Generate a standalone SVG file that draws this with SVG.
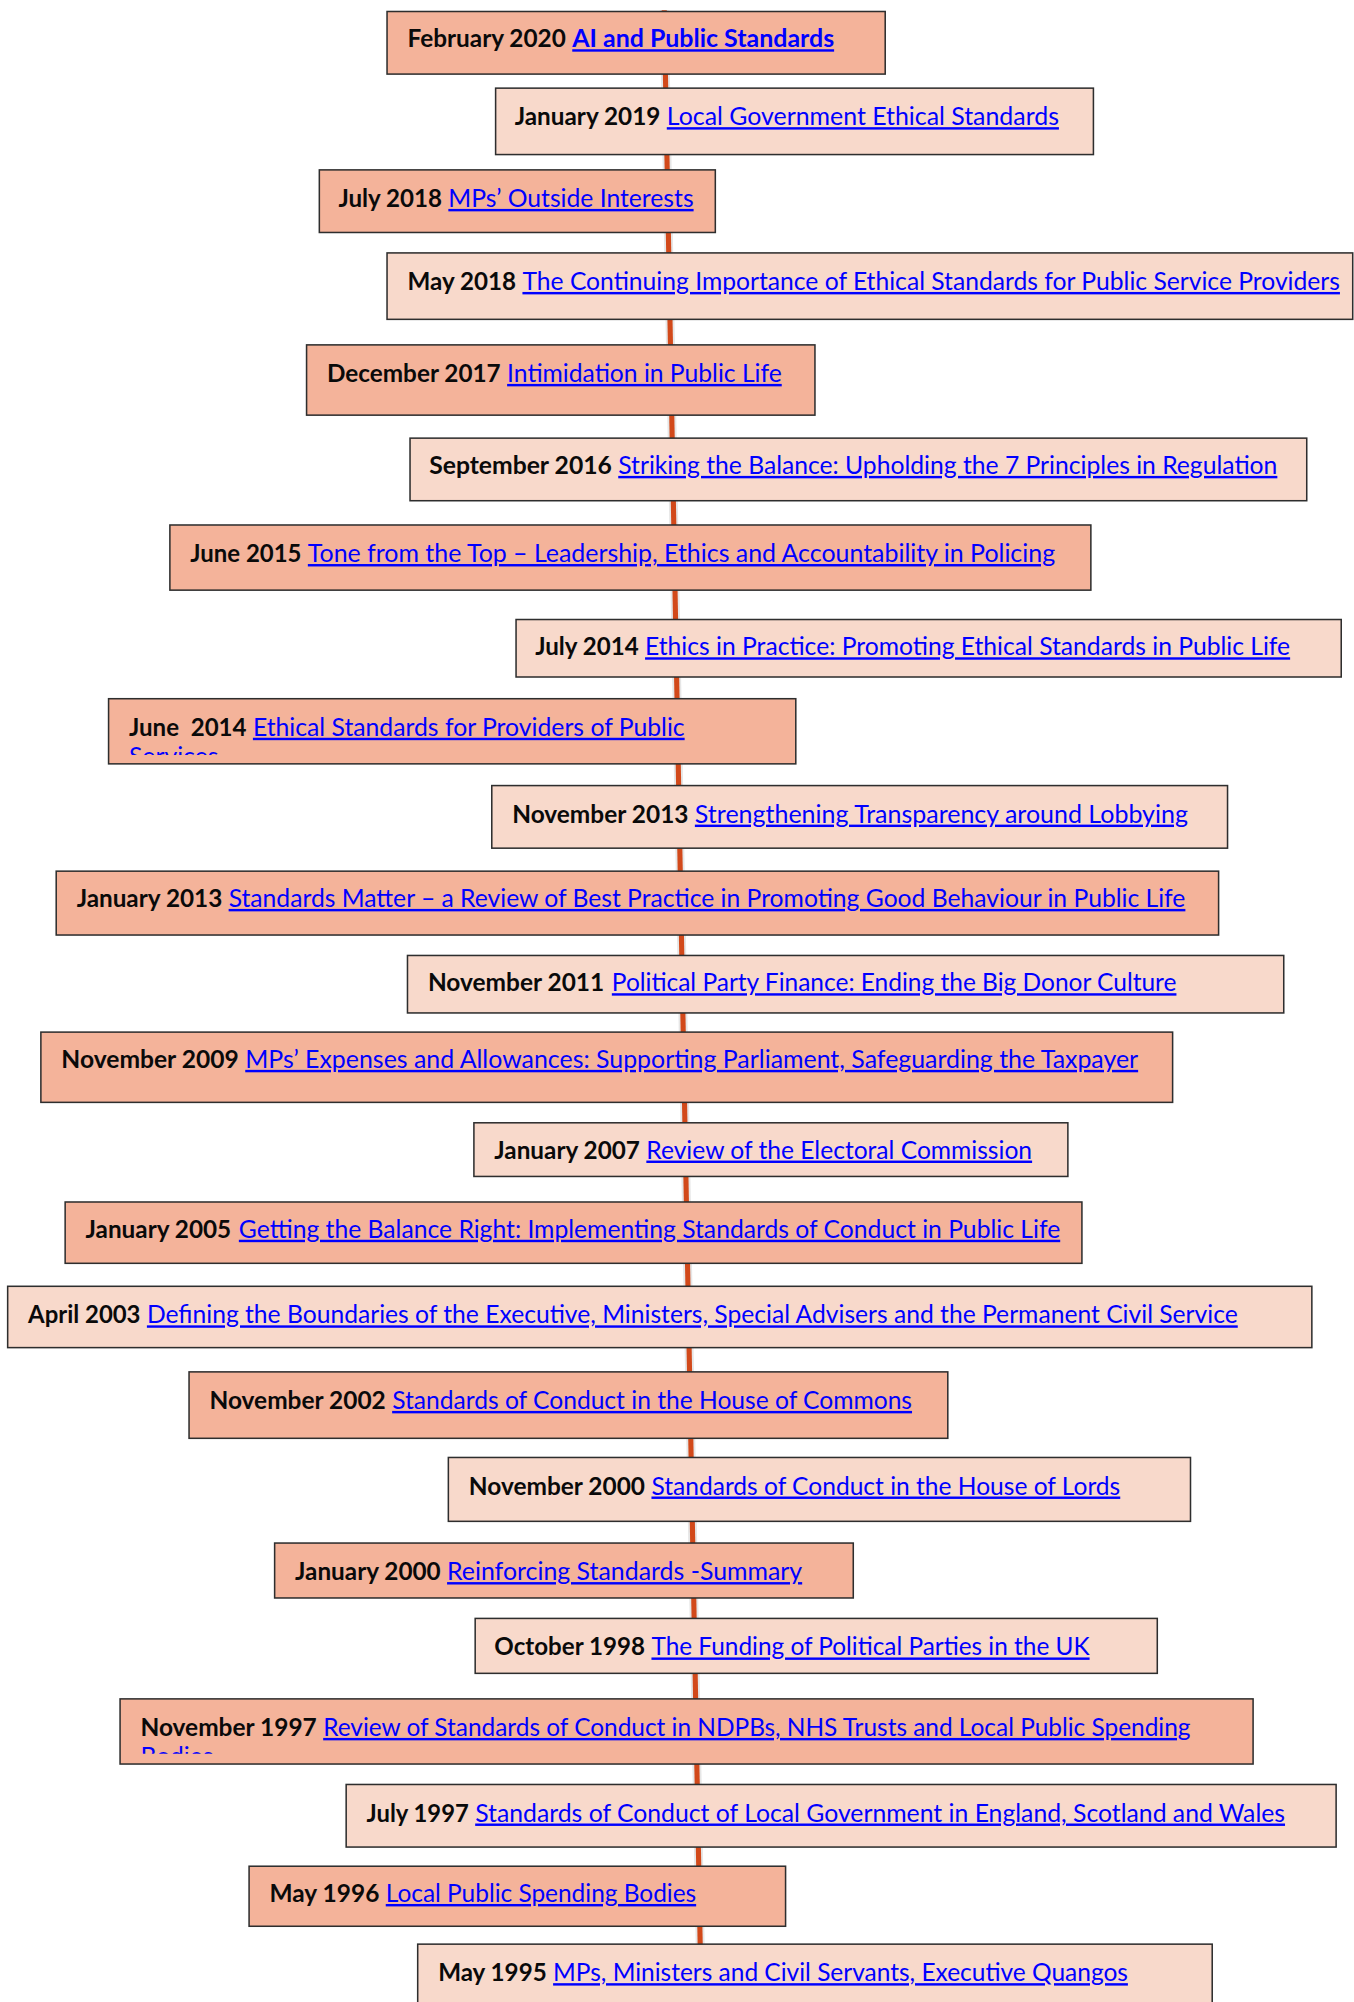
<svg xmlns="http://www.w3.org/2000/svg" width="1354" height="2002" viewBox="0 0 1354 2002">
<style>
.bx{stroke:#2e2e2e;stroke-width:1.2}
.dk{fill:#F4B39A}
.lt{fill:#F8D9CB}
text{font-family:Lato,"Open Sans","Liberation Sans",sans-serif;font-size:19px;white-space:pre}
.d{font-weight:bold;fill:#0a0a0a}
.l{fill:#0000FF;text-decoration:underline;text-decoration-skip-ink:none}
.lb{fill:#0000FF;text-decoration:underline;text-decoration-skip-ink:none;font-weight:bold}
</style>
<defs>
<clipPath id="c9"><rect x="86" y="548" width="536" height="43"/></clipPath>
<clipPath id="c21"><rect x="95" y="1331" width="885" height="42"/></clipPath>
</defs>
<rect width="1354" height="2002" fill="#ffffff"/>
<g transform="scale(1.27736)">
<g id="connectors">
<line x1="520" y1="8" x2="549" y2="1568" stroke="#e6e6e6" stroke-width="7"/>
<line x1="520" y1="8" x2="549" y2="1568" stroke="#D2491A" stroke-width="4"/>
</g>
<g id="n2020"><rect class="bx dk" x="303" y="9" width="390" height="49"/>
<text class="d" x="319" y="37" textLength="124" lengthAdjust="spacingAndGlyphs">February 2020</text>
<text class="lb" x="448" y="37" textLength="205" lengthAdjust="spacingAndGlyphs">AI and Public Standards</text></g>
<g id="n2019"><rect class="bx lt" x="388" y="69" width="468" height="52"/>
<text class="d" x="403" y="98" textLength="114" lengthAdjust="spacingAndGlyphs">January 2019</text>
<text class="l" x="522" y="98" textLength="307" lengthAdjust="spacingAndGlyphs">Local Government Ethical Standards</text></g>
<g id="n2018jul"><rect class="bx dk" x="250" y="133" width="310" height="49"/>
<text class="d" x="265" y="162" textLength="81" lengthAdjust="spacingAndGlyphs">July 2018</text>
<text class="l" x="351" y="162" textLength="192" lengthAdjust="spacingAndGlyphs">MPs’ Outside Interests</text></g>
<g id="n2018may"><rect class="bx lt" x="303" y="198" width="756" height="52"/>
<text class="d" x="319" y="227" textLength="85" lengthAdjust="spacingAndGlyphs">May 2018</text>
<text class="l" x="409" y="227" textLength="640" lengthAdjust="spacingAndGlyphs">The Continuing Importance of Ethical Standards for Public Service Providers</text></g>
<g id="n2017"><rect class="bx dk" x="240" y="270" width="398" height="55"/>
<text class="d" x="256" y="299" textLength="136" lengthAdjust="spacingAndGlyphs">December 2017</text>
<text class="l" x="397" y="299" textLength="215" lengthAdjust="spacingAndGlyphs">Intimidation in Public Life</text></g>
<g id="n2016"><rect class="bx lt" x="321" y="343" width="702" height="49"/>
<text class="d" x="336" y="371" textLength="143" lengthAdjust="spacingAndGlyphs">September 2016</text>
<text class="l" x="484" y="371" textLength="516" lengthAdjust="spacingAndGlyphs">Striking the Balance: Upholding the 7 Principles in Regulation</text></g>
<g id="n2015"><rect class="bx dk" x="133" y="411" width="721" height="51"/>
<text class="d" x="149" y="440" textLength="87" lengthAdjust="spacingAndGlyphs">June 2015</text>
<text class="l" x="241" y="440" textLength="585" lengthAdjust="spacingAndGlyphs">Tone from the Top – Leadership, Ethics and Accountability in Policing</text></g>
<g id="n2014jul"><rect class="bx lt" x="404" y="485" width="646" height="45"/>
<text class="d" x="419" y="513" textLength="81" lengthAdjust="spacingAndGlyphs">July 2014</text>
<text class="l" x="505" y="513" textLength="505" lengthAdjust="spacingAndGlyphs">Ethics in Practice: Promoting Ethical Standards in Public Life</text></g>
<g id="n2014jun"><rect class="bx dk" x="85" y="547" width="538" height="51"/>
<g clip-path="url(#c9)">
<text class="d" x="101" y="576" textLength="92" lengthAdjust="spacingAndGlyphs">June  2014</text>
<text class="l" x="198" y="576" textLength="338" lengthAdjust="spacingAndGlyphs">Ethical Standards for Providers of Public</text>
<text class="l" x="101" y="599" textLength="70" lengthAdjust="spacingAndGlyphs">Services</text></g></g>
<g id="n2013nov"><rect class="bx lt" x="385" y="615" width="576" height="49"/>
<text class="d" x="401" y="644" textLength="138" lengthAdjust="spacingAndGlyphs">November 2013</text>
<text class="l" x="544" y="644" textLength="386" lengthAdjust="spacingAndGlyphs">Strengthening Transparency around Lobbying</text></g>
<g id="n2013jan"><rect class="bx dk" x="44" y="682" width="910" height="50"/>
<text class="d" x="60" y="710" textLength="114" lengthAdjust="spacingAndGlyphs">January 2013</text>
<text class="l" x="179" y="710" textLength="749" lengthAdjust="spacingAndGlyphs">Standards Matter – a Review of Best Practice in Promoting Good Behaviour in Public Life</text></g>
<g id="n2011"><rect class="bx lt" x="319" y="748" width="686" height="45"/>
<text class="d" x="335" y="776" textLength="138" lengthAdjust="spacingAndGlyphs">November 2011</text>
<text class="l" x="479" y="776" textLength="442" lengthAdjust="spacingAndGlyphs">Political Party Finance: Ending the Big Donor Culture</text></g>
<g id="n2009"><rect class="bx dk" x="32" y="808" width="886" height="55"/>
<text class="d" x="48" y="836" textLength="139" lengthAdjust="spacingAndGlyphs">November 2009</text>
<text class="l" x="192" y="836" textLength="699" lengthAdjust="spacingAndGlyphs">MPs’ Expenses and Allowances: Supporting Parliament, Safeguarding the Taxpayer</text></g>
<g id="n2007"><rect class="bx lt" x="371" y="879" width="465" height="42"/>
<text class="d" x="387" y="907" textLength="114" lengthAdjust="spacingAndGlyphs">January 2007</text>
<text class="l" x="506" y="907" textLength="302" lengthAdjust="spacingAndGlyphs">Review of the Electoral Commission</text></g>
<g id="n2005"><rect class="bx dk" x="51" y="941" width="796" height="48"/>
<text class="d" x="67" y="969" textLength="114" lengthAdjust="spacingAndGlyphs">January 2005</text>
<text class="l" x="187" y="969" textLength="643" lengthAdjust="spacingAndGlyphs">Getting the Balance Right: Implementing Standards of Conduct in Public Life</text></g>
<g id="n2003"><rect class="bx lt" x="6" y="1007" width="1021" height="48"/>
<text class="d" x="22" y="1036" textLength="88" lengthAdjust="spacingAndGlyphs">April 2003</text>
<text class="l" x="115" y="1036" textLength="854" lengthAdjust="spacingAndGlyphs">Defining the Boundaries of the Executive, Ministers, Special Advisers and the Permanent Civil Service</text></g>
<g id="n2002"><rect class="bx dk" x="148" y="1074" width="594" height="52"/>
<text class="d" x="164" y="1103" textLength="138" lengthAdjust="spacingAndGlyphs">November 2002</text>
<text class="l" x="307" y="1103" textLength="407" lengthAdjust="spacingAndGlyphs">Standards of Conduct in the House of Commons</text></g>
<g id="n2000nov"><rect class="bx lt" x="351" y="1141" width="581" height="50"/>
<text class="d" x="367" y="1170" textLength="138" lengthAdjust="spacingAndGlyphs">November 2000</text>
<text class="l" x="510" y="1170" textLength="367" lengthAdjust="spacingAndGlyphs">Standards of Conduct in the House of Lords</text></g>
<g id="n2000jan"><rect class="bx dk" x="215" y="1208" width="453" height="43"/>
<text class="d" x="231" y="1237" textLength="114" lengthAdjust="spacingAndGlyphs">January 2000</text>
<text class="l" x="350" y="1237" textLength="278" lengthAdjust="spacingAndGlyphs">Reinforcing Standards -Summary</text></g>
<g id="n1998"><rect class="bx lt" x="372" y="1267" width="534" height="43"/>
<text class="d" x="387" y="1296" textLength="118" lengthAdjust="spacingAndGlyphs">October 1998</text>
<text class="l" x="510" y="1296" textLength="343" lengthAdjust="spacingAndGlyphs">The Funding of Political Parties in the UK</text></g>
<g id="n1997nov"><rect class="bx dk" x="94" y="1330" width="887" height="51"/>
<g clip-path="url(#c21)">
<text class="d" x="110" y="1359" textLength="138" lengthAdjust="spacingAndGlyphs">November 1997</text>
<text class="l" x="253" y="1359" textLength="679" lengthAdjust="spacingAndGlyphs">Review of Standards of Conduct in NDPBs, NHS Trusts and Local Public Spending</text>
<text class="l" x="110" y="1382" textLength="57" lengthAdjust="spacingAndGlyphs">Bodies</text></g></g>
<g id="n1997jul"><rect class="bx lt" x="271" y="1397" width="775" height="49"/>
<text class="d" x="287" y="1426" textLength="80" lengthAdjust="spacingAndGlyphs">July 1997</text>
<text class="l" x="372" y="1426" textLength="634" lengthAdjust="spacingAndGlyphs">Standards of Conduct of Local Government in England, Scotland and Wales</text></g>
<g id="n1996"><rect class="bx dk" x="195" y="1461" width="420" height="47"/>
<text class="d" x="211" y="1489" textLength="86" lengthAdjust="spacingAndGlyphs">May 1996</text>
<text class="l" x="302" y="1489" textLength="243" lengthAdjust="spacingAndGlyphs">Local Public Spending Bodies</text></g>
<g id="n1995"><rect class="bx lt" x="327" y="1522" width="622" height="60"/>
<text class="d" x="343" y="1551" textLength="85" lengthAdjust="spacingAndGlyphs">May 1995</text>
<text class="l" x="433" y="1551" textLength="450" lengthAdjust="spacingAndGlyphs">MPs, Ministers and Civil Servants, Executive Quangos</text></g>
</g>
</svg>
